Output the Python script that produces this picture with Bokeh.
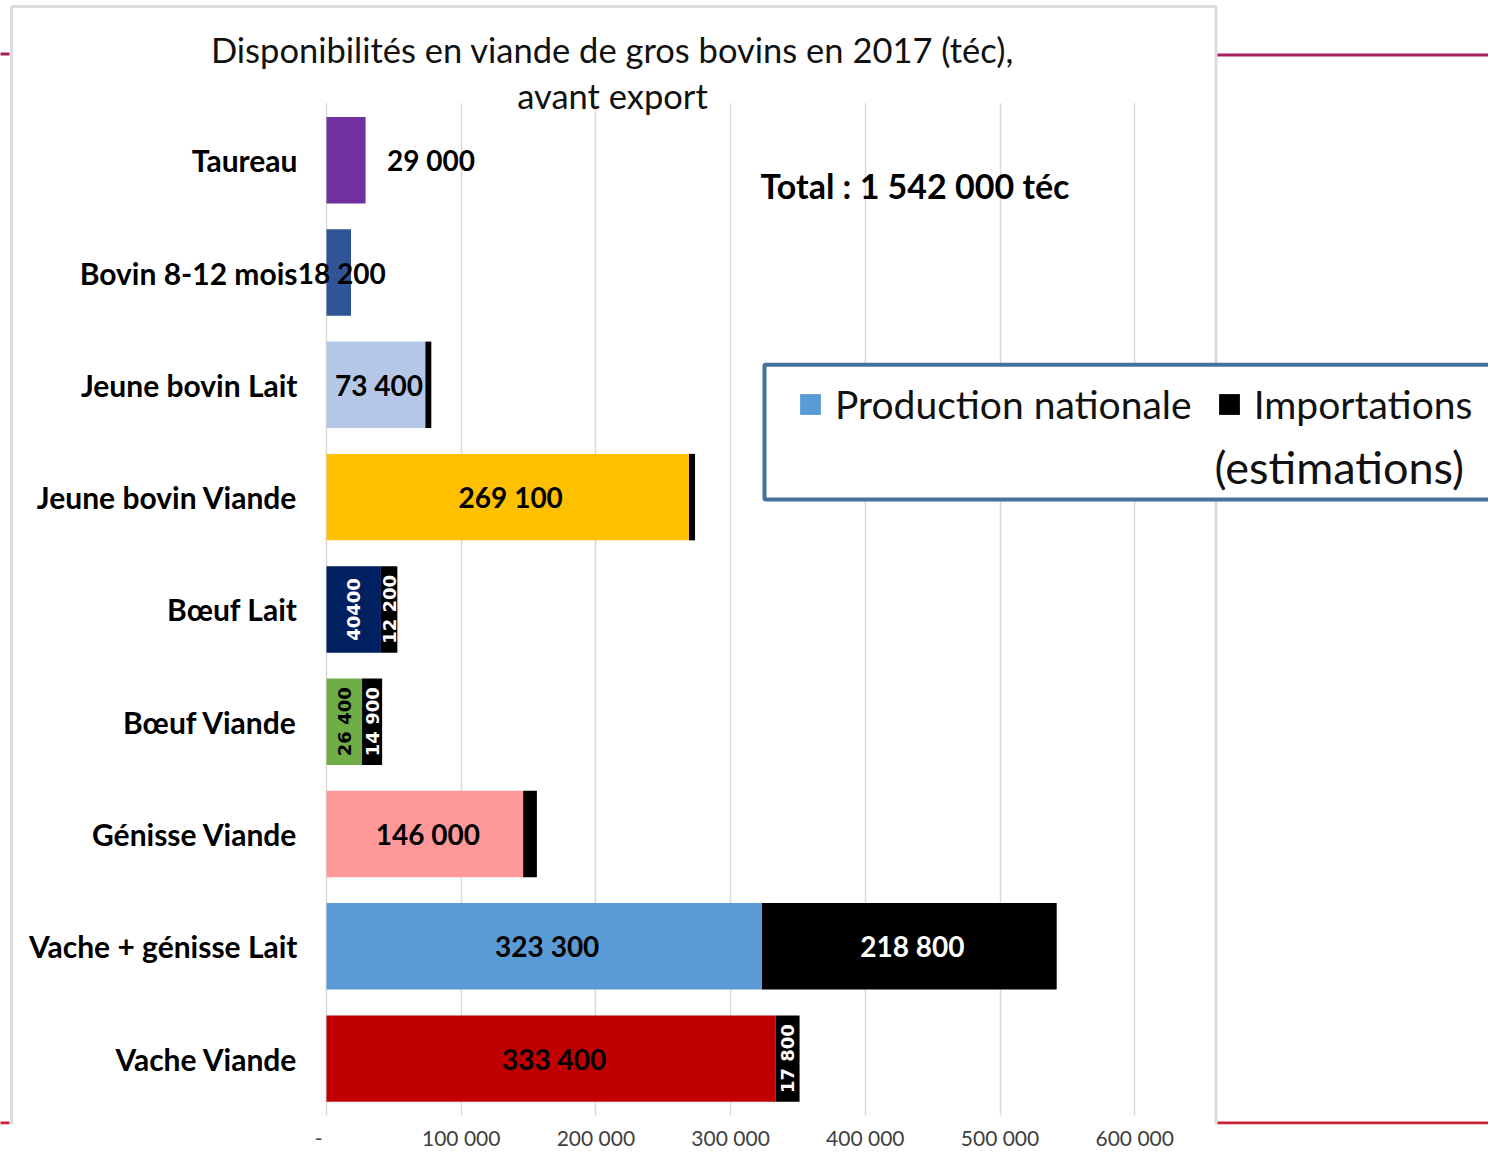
import math
from bokeh.plotting import figure
from bokeh.models import (Range1d, FixedTicker, ColumnDataSource, Label,
                          BoxAnnotation, Legend, LegendItem)
from bokeh.embed import file_html
from bokeh.resources import INLINE
from bokeh.core.properties import value

# ---------------- data ----------------
categories = ["Taureau", "Bovin 8-12 mois", "Jeune bovin Lait", "Jeune bovin Viande",
              "Bœuf Lait", "Bœuf Viande", "Génisse Viande", "Vache + génisse Lait",
              "Vache Viande"]
production = [29000, 18200, 73400, 269100, 40400, 26400, 146000, 323300, 333400]
imports = [0, 0, 4400, 4500, 12200, 14900, 10200, 218800, 17800]
bar_colors = ["#7030A0", "#2F5597", "#B4C7E7", "#FFC000", "#002060",
              "#70AD47", "#FF9999", "#5B9BD5", "#C00000"]
prod_labels = ["29 000", "18 200", "73 400", "269 100", "40400", "26 400",
               "146 000", "323 300", "333 400"]
imp_labels = ["", "", "", "", "12 200", "14 900", "", "218 800", "17 800"]
x_ticks = [0, 100000, 200000, 300000, 400000, 500000, 600000]
title_lines = ["Disponibilités en viande de gros bovins en 2017 (téc),", "avant export"]
total_text = "Total : 1 542 000 téc"
legend_labels = ["Production nationale", "Importations", "(estimations)"]

# ---------------- styles ----------------
rotated_prod = {"Bœuf Lait", "Bœuf Viande"}
rotated_imp = {"Bœuf Lait", "Bœuf Viande", "Vache Viande"}
white_prod = {"Bœuf Lait"}
label_shift = {"Taureau": 85}
FONT = "Lato"

# ---------------- geometry (page px -> data) ----------------
W, H = 1488, 1152
B_BOTTOM = 26
X0_PX = 326.0
PX_PER_100K = 134.7
ROW0_PX = 1060.0
ROW_PX = 112.5


def fx(px):
    return (px - X0_PX) / PX_PER_100K * 100000


def fy(py):
    return (ROW0_PX - py) / ROW_PX


n = len(categories)
ypos = [n - 1 - i for i in range(n)]
totals = [a + b for a, b in zip(production, imports)]

p = figure(width=W, height=H, output_backend="svg", toolbar_location=None,
           title=None, y_axis_location=None,
           x_range=Range1d(fx(0), fx(W)),
           y_range=Range1d(fy(H - B_BOTTOM), fy(0)),
           min_border_left=0, min_border_right=0, min_border_top=0,
           min_border_bottom=B_BOTTOM, background_fill_color="white",
           border_fill_color="white", outline_line_color=None)

# x axis
p.xaxis.ticker = FixedTicker(ticks=x_ticks)
p.xaxis.major_label_overrides = {t: ("-\u2003" if t == 0 else f"{t:,}".replace(",", " "))
                                 for t in x_ticks}
p.xaxis.axis_line_color = None
p.xaxis.major_tick_line_color = None
p.xaxis.minor_tick_line_color = None
p.xaxis.major_tick_out = 0
p.xaxis.major_tick_in = 0
p.xaxis.major_label_standoff = 0
p.xaxis.major_label_text_font = FONT
p.xaxis.major_label_text_font_size = "21px"
p.xaxis.major_label_text_color = "#404040"

p.xgrid.ticker = FixedTicker(ticks=x_ticks)
p.xgrid.grid_line_color = "#D9D9D9"
p.xgrid.grid_line_width = 1.5
p.ygrid.visible = False

# white covers limiting the grid to the plot area
for top_px, bottom_px in [(-20, 103), (1117, 1200)]:
    p.add_layout(BoxAnnotation(left=fx(300), right=fx(1200), top=fy(top_px),
                               bottom=fy(bottom_px), fill_color="white", fill_alpha=1,
                               line_color=None, level="underlay"))

# bars
src = ColumnDataSource(dict(y=ypos, prod=production, total=totals, color=bar_colors))
r_prod = p.hbar(y="y", left=0, right="prod", height=0.77, fill_color="color",
                line_color=None, source=src)
r_imp = p.hbar(y="y", left="prod", right="total", height=0.77, fill_color="black",
               line_color=None, source=src)

# category labels
p.text(x=fx(297), y="y", text="cat", source=ColumnDataSource(dict(y=ypos, cat=categories)),
       text_font=value(FONT), text_font_style="bold", text_font_size="30px",
       text_color="#000000", text_align="right", text_baseline="middle")

# value labels
h = dict(x=[], y=[], text=[], color=[], xoff=[])
r = dict(x=[], y=[], text=[], color=[])
for c, yv, pv, iv, pl, il in zip(categories, ypos, production, imports,
                                 prod_labels, imp_labels):
    col = "white" if c in white_prod else "black"
    if c in rotated_prod:
        r["x"].append(pv / 2); r["y"].append(yv); r["text"].append(pl); r["color"].append(col)
    else:
        h["x"].append(pv / 2); h["y"].append(yv); h["text"].append(pl)
        h["color"].append(col); h["xoff"].append(label_shift.get(c, 3))
    if il:
        if c in rotated_imp:
            r["x"].append(pv + iv / 2); r["y"].append(yv); r["text"].append(il)
            r["color"].append("white")
        else:
            h["x"].append(pv + iv / 2); h["y"].append(yv); h["text"].append(il)
            h["color"].append("white"); h["xoff"].append(3)

p.text(x="x", y="y", text="text", text_color="color", x_offset="xoff",
       source=ColumnDataSource(h), text_font=value(FONT), text_font_style="bold",
       text_font_size="28px", text_align="center", text_baseline="middle")
p.text(x="x", y="y", text="text", text_color="color", angle=math.pi / 2,
       source=ColumnDataSource(r), text_font=value("DejaVu Sans"),
       text_font_style="bold", text_font_size="18px", text_align="center",
       text_baseline="middle")

# panel frame and page decorations
p.add_layout(BoxAnnotation(left=fx(11), right=fx(1215.5), top=fy(6), bottom=fy(1400),
                           fill_alpha=0, line_color="#DCDCDC", line_alpha=1,
                           line_width=3))
for l_px, r_px, t_px, b_px, col in [(1217, 1500, 53, 56, "#A8205A"),
                                    (-5, 9, 52, 55, "#A8205A"),
                                    (1217, 1500, 1123, 1126, "#CC2236"),
                                    (-5, 9, 1123, 1126, "#CC2236")]:
    p.add_layout(BoxAnnotation(left=fx(l_px), right=fx(r_px), top=fy(t_px),
                               bottom=fy(b_px), fill_color=col, fill_alpha=1,
                               line_color=None))

# title
for txt, py in zip(title_lines, [49, 95]):
    p.add_layout(Label(x=fx(612), y=fy(py), text=txt, text_align="center",
                       text_baseline="middle", text_font=FONT,
                       text_font_size="34.5px", text_color="#111111"))

# total
p.add_layout(Label(x=fx(760), y=fy(185), text=total_text, text_align="left",
                   text_baseline="middle", text_font=FONT, text_font_style="bold",
                   text_font_size="34px", text_color="#000000"))

# legend
p.add_layout(BoxAnnotation(left=fx(764), right=fx(1560), top=fy(365), bottom=fy(500),
                           fill_color="white", fill_alpha=1, line_color="#41719C",
                           line_alpha=1, line_width=4))
legend = Legend(items=[LegendItem(label=value(legend_labels[0]), renderers=[r_prod], index=7),
                       LegendItem(label=value(legend_labels[1]), renderers=[r_imp], index=7)],
                orientation="horizontal", location=(797, 697), padding=0, margin=0,
                spacing=24, label_standoff=12, glyph_width=26, glyph_height=26,
                label_text_font=FONT, label_text_font_size="39px",
                label_text_color="#111111", border_line_color=None,
                background_fill_alpha=0)
p.add_layout(legend)
p.add_layout(Label(x=fx(1214), y=fy(467), text=legend_labels[2], text_align="left",
                   text_baseline="middle", text_font=FONT, text_font_size="45px",
                   text_color="#111111"))

open("out.html", "w").write(file_html(p, INLINE, title="Disponibilités en viande de gros bovins"))
